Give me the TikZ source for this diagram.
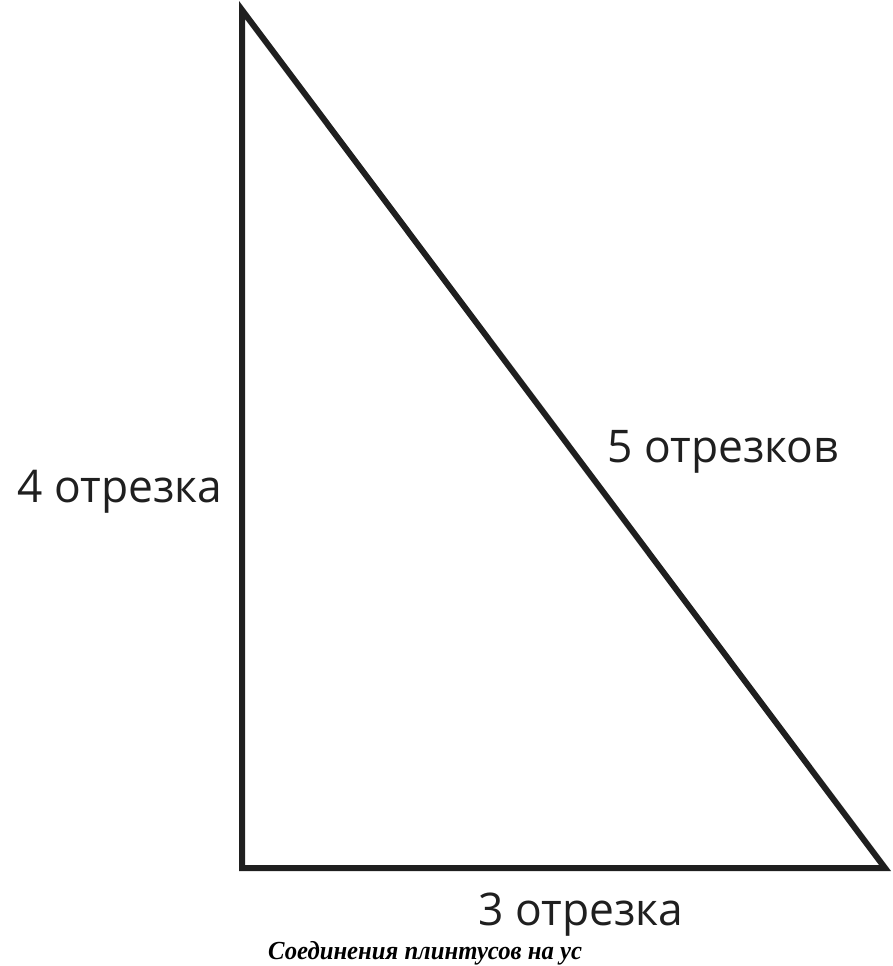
\documentclass[tikz,border=0pt]{standalone}
\usepackage{fontspec}
\setmainfont{Open Sans}
\newfontfamily\capfont{Liberation Serif}
\begin{document}
\begin{tikzpicture}[x=1pt,y=-1pt,
  side/.style={line width=6pt,draw=black!88,line join=miter},
  lbl/.style={font=\fontsize{45}{48}\selectfont,text=black!88,inner sep=0pt,anchor=base west,xscale=0.985,transform shape},
  captxt/.style={font=\capfont\bfseries\itshape\fontsize{26}{28}\selectfont,inner sep=0pt,anchor=base west,xscale=0.95,transform shape}]
\useasboundingbox (0,0) rectangle (892,966);
\coordinate (A) at (242,10);
\coordinate (B) at (242,868);
\coordinate (C) at (885,868);
\draw[side] (A) -- (B) -- (C) -- cycle;
\node[lbl] (l4) at (17,502) {4 отрезка};
\node[lbl] (l5) at (607,462) {5 отрезков};
\node[lbl] (l3) at (478,925) {3 отрезка};
\node[captxt] (c) at (268,959) {Соединения плинтусов на ус};
\end{tikzpicture}
\end{document}
